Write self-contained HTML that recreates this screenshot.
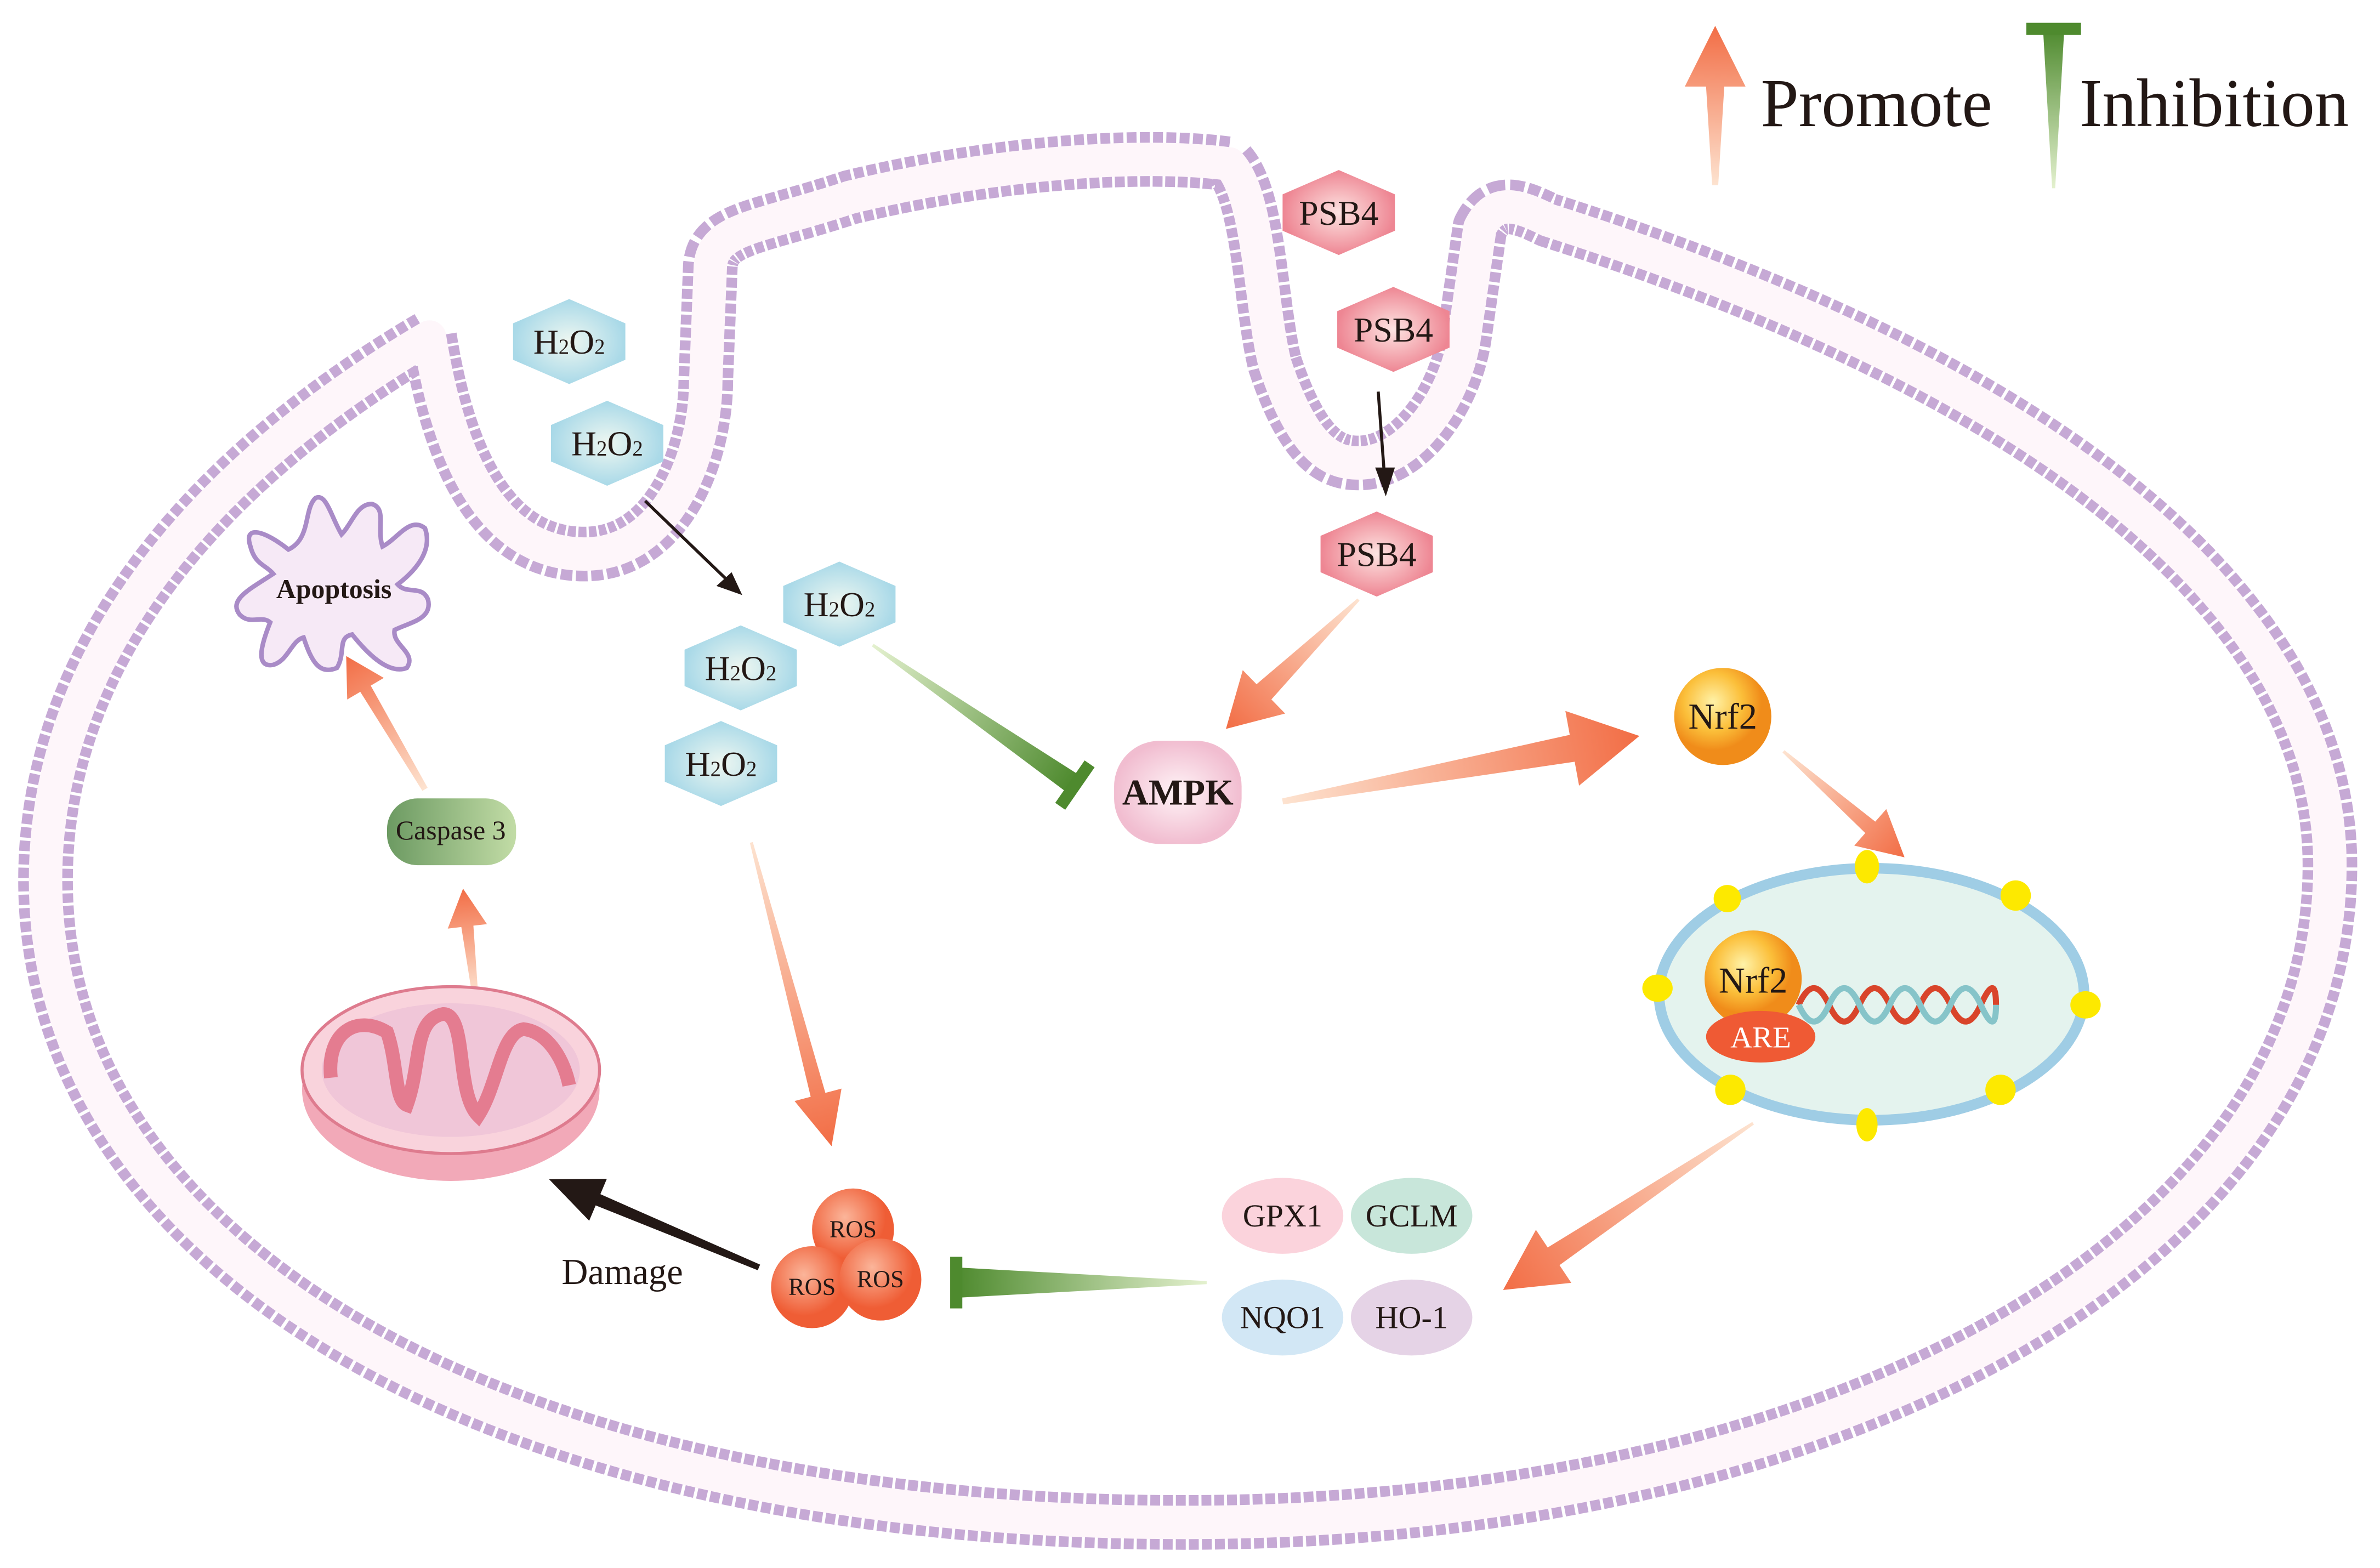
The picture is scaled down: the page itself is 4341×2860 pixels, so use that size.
<!DOCTYPE html>
<html><head><meta charset="utf-8"><style>
html,body{margin:0;padding:0;background:#fff;}
svg{display:block;}
text{font-family:"Liberation Serif",serif;fill:#231815;}
</style></head><body>
<svg width="4341" height="2860" viewBox="0 0 1568 1033" xmlns="http://www.w3.org/2000/svg">
<defs>
<linearGradient id="og" x1="0" y1="0" x2="1" y2="0"><stop offset="0" stop-color="#fde3d0"/><stop offset="1" stop-color="#f26d45"/></linearGradient>
<linearGradient id="gg" x1="0" y1="0" x2="1" y2="0"><stop offset="0" stop-color="#e4f1cf"/><stop offset="1" stop-color="#4e8a2e"/></linearGradient>
<radialGradient id="hb"><stop offset="0" stop-color="#eef7f1"/><stop offset="1" stop-color="#a9d9e8"/></radialGradient>
<radialGradient id="hp"><stop offset="0" stop-color="#fde4e2"/><stop offset="1" stop-color="#ee8693"/></radialGradient>
<radialGradient id="nrf" cx="0.4" cy="0.35"><stop offset="0" stop-color="#fff2a8"/><stop offset="0.6" stop-color="#fbbf3a"/><stop offset="1" stop-color="#f08c1a"/></radialGradient>
<radialGradient id="ros" cx="0.4" cy="0.35"><stop offset="0" stop-color="#fbb59a"/><stop offset="1" stop-color="#ef5d35"/></radialGradient>
<radialGradient id="ampk"><stop offset="0" stop-color="#fff4f7"/><stop offset="1" stop-color="#f1bdd0"/></radialGradient>
<linearGradient id="casp" x1="0" y1="0" x2="1" y2="0"><stop offset="0" stop-color="#6c9a62"/><stop offset="1" stop-color="#c2dca6"/></linearGradient>
<polygon id="hex" points="0,-28 37,-12 37,12 0,28 -37,12 -37,-12"/>
<path id="mem" d="M283,222 C300,330 340,365 385,365 C440,365 465,300 465,250 L468,175 C470,150 500,150 560,130 C650,108 750,100 810,108 C830,130 830,200 840,240 C860,300 880,305 895,305 C930,305 960,260 965,220 L975,150 C985,130 1000,135 1020,145 C1350,250 1535,400 1535,570 C1535,830 1200,1003 780,1003 C330,1003 30,830 30,580 C30,420 150,300 283,222 Z"/>
</defs>

<g fill="none" stroke-linejoin="round">
<use href="#mem" stroke="#c6a9d5" stroke-width="36" stroke-dasharray="6.5 2"/>
<use href="#mem" stroke="#fef6fa" stroke-width="22"/>
</g>

<g transform="translate(1130,122) rotate(-90)"><polygon points="0,-2 65,-6 65,-20 105,0 65,20 65,6 0,2" fill="url(#og)"/></g>
<text x="1160" y="83" font-size="45">Promote</text>
<g transform="translate(1353,124) rotate(-90)"><polygon points="0,-1 105,-7 105,7 0,1" fill="url(#gg)"/><rect x="101" y="-18" width="8" height="36" fill="#4e8a2e"/></g>
<text x="1370" y="83" font-size="45">Inhibition</text>

<g font-size="23" text-anchor="middle">
<use href="#hex" fill="url(#hp)" transform="translate(882,140)"/><text x="882" y="148">PSB4</text>
<use href="#hex" fill="url(#hp)" transform="translate(918,217)"/><text x="918" y="225">PSB4</text>
<use href="#hex" fill="url(#hp)" transform="translate(907,365)"/><text x="907" y="373">PSB4</text>
<use href="#hex" fill="url(#hb)" transform="translate(375,225)"/><text x="375" y="233">H<tspan font-size="14">2</tspan>O<tspan font-size="14">2</tspan></text>
<use href="#hex" fill="url(#hb)" transform="translate(400,292)"/><text x="400" y="300">H<tspan font-size="14">2</tspan>O<tspan font-size="14">2</tspan></text>
<use href="#hex" fill="url(#hb)" transform="translate(553,398)"/><text x="553" y="406">H<tspan font-size="14">2</tspan>O<tspan font-size="14">2</tspan></text>
<use href="#hex" fill="url(#hb)" transform="translate(488,440)"/><text x="488" y="448">H<tspan font-size="14">2</tspan>O<tspan font-size="14">2</tspan></text>
<use href="#hex" fill="url(#hb)" transform="translate(475,503)"/><text x="475" y="511">H<tspan font-size="14">2</tspan>O<tspan font-size="14">2</tspan></text>
</g>

<line x1="425" y1="330" x2="480" y2="383" stroke="#231815" stroke-width="2"/>
<polygon points="489,392 472,386 482,377" fill="#231815"/>
<line x1="908" y1="258" x2="912" y2="312" stroke="#231815" stroke-width="2"/>
<polygon points="913,327 906,308 919,308" fill="#231815"/>

<rect x="734" y="488" width="84" height="68" rx="30" fill="url(#ampk)"/>
<text x="776" y="530" font-size="24" text-anchor="middle" font-weight="bold">AMPK</text>

<g transform="translate(575,425) rotate(34.7)"><polygon points="0,-1 160,-7 160,7 0,1" fill="url(#gg)"/><rect x="158" y="-17" width="8" height="34" fill="#4e8a2e"/></g>
<g transform="translate(795,845) rotate(180)"><polygon points="0,-1 165,-10 165,10 0,1" fill="url(#gg)"/><rect x="161" y="-17" width="8" height="34" fill="#4e8a2e"/></g>

<g fill="url(#og)">
<g transform="translate(895,395) rotate(135.7)"><polygon points="0,-1 87,-7 87,-20 122,0 87,20 87,7 0,1"/></g>
<g transform="translate(845,528) rotate(-10.4)"><polygon points="0,-2 194,-9 194,-25 239,0 194,25 194,9 0,2"/></g>
<g transform="translate(1175,495) rotate(41.2)"><polygon points="0,-1 76,-5 76,-16 106,0 76,16 76,5 0,1"/></g>
<g transform="translate(1155,740) rotate(146.3)"><polygon points="0,-1 158,-7 158,-21 198,0 158,21 158,7 0,1"/></g>
<g transform="translate(495,555) rotate(75.2)"><polygon points="0,-1 172,-5 172,-16 207,0 172,16 172,5 0,1"/></g>
<g transform="translate(313,655) rotate(-96.5)"><polygon points="0,-2 45,-4 45,-13 70,0 45,13 45,4 0,2"/></g>
<g transform="translate(280,520) rotate(-120.6)"><polygon points="0,-2 77,-4 77,-14 102,0 77,14 77,4 0,2"/></g>
</g>

<circle cx="1135" cy="472" r="32" fill="url(#nrf)"/>
<text x="1135" y="480" font-size="24" text-anchor="middle">Nrf2</text>

<ellipse cx="1233" cy="655" rx="140" ry="83" fill="#e4f3ee" stroke="#9fcde5" stroke-width="7"/>
<g fill="#fde900">
<ellipse cx="1230" cy="571" rx="8" ry="11"/><ellipse cx="1328" cy="590" rx="10" ry="10"/><ellipse cx="1374" cy="662" rx="10" ry="9"/>
<ellipse cx="1318" cy="718" rx="10" ry="10"/><ellipse cx="1230" cy="741" rx="7" ry="11"/><ellipse cx="1140" cy="718" rx="10" ry="10"/>
<ellipse cx="1092" cy="651" rx="10" ry="9"/><ellipse cx="1138" cy="592" rx="9" ry="9"/>
</g>
<g fill="none" stroke-width="4">
<path d="M1185,662 q10,-22 20,0 t20,0 t20,0 t20,0 t20,0 t20,0 t10,0" stroke="#d9442a"/>
<path d="M1185,662 q10,22 20,0 t20,0 t20,0 t20,0 t20,0 t20,0 t10,0" stroke="#86c4c9"/>
</g>
<circle cx="1155" cy="645" r="32" fill="url(#nrf)"/>
<text x="1155" y="654" font-size="24" text-anchor="middle">Nrf2</text>
<ellipse cx="1160" cy="683" rx="36" ry="17" fill="#ef5a34"/>
<text x="1160" y="690" font-size="20" text-anchor="middle" style="fill:#fff">ARE</text>

<g font-size="21" text-anchor="middle">
<ellipse cx="845" cy="801" rx="40" ry="25" fill="#fbd3dc"/><text x="845" y="808">GPX1</text>
<ellipse cx="930" cy="801" rx="40" ry="25" fill="#c8e6da"/><text x="930" y="808">GCLM</text>
<ellipse cx="845" cy="868" rx="40" ry="25" fill="#d2e7f5"/><text x="845" y="875">NQO1</text>
<ellipse cx="930" cy="868" rx="40" ry="25" fill="#e5d3e6"/><text x="930" y="875">HO-1</text>
</g>

<circle cx="562" cy="810" r="27" fill="url(#ros)"/>
<circle cx="535" cy="848" r="27" fill="url(#ros)"/>
<circle cx="580" cy="843" r="27" fill="url(#ros)"/>
<g font-size="16" text-anchor="middle"><text x="562" y="815">ROS</text><text x="535" y="853">ROS</text><text x="580" y="848">ROS</text></g>

<g transform="translate(500,835) rotate(202.8)"><polygon points="0,-2 115,-4 115,-15 150,0 115,15 115,4 0,2" fill="#231815"/></g>
<text x="410" y="846" font-size="24" text-anchor="middle">Damage</text>

<ellipse cx="297" cy="718" rx="98" ry="60" fill="#f2a9b8"/>
<ellipse cx="297" cy="705" rx="98" ry="55" fill="#f9d3dc" stroke="#de7b8e" stroke-width="2"/>
<ellipse cx="297" cy="705" rx="85" ry="44" fill="#f0c6d8"/>
<path d="M218,710 C215,680 235,668 255,680 C262,700 260,725 268,728 C278,700 272,672 292,668 C308,668 300,720 315,735 C328,715 330,680 345,678 C362,680 372,700 375,715" fill="none" stroke="#e47c90" stroke-width="9"/>

<rect x="255" y="526" width="85" height="44" rx="20" fill="url(#casp)"/>
<text x="297" y="553" font-size="18" text-anchor="middle">Caspase 3</text>

<path d="M190,362 C175,350 160,345 165,360 C168,372 175,372 180,378 C165,388 150,395 158,405 C165,412 172,405 178,410 C172,425 168,440 180,438 C190,435 192,422 200,420 C205,435 210,445 222,440 C228,430 222,420 232,418 C240,428 255,445 268,440 C275,430 258,425 260,415 C270,410 285,408 282,395 C278,385 268,392 262,385 C275,375 285,362 280,348 C270,340 262,355 252,360 C248,348 255,335 245,332 C235,332 232,345 225,352 C218,340 215,325 208,328 C200,335 205,355 190,362 Z" fill="#f6e9f6" stroke="#a98bc7" stroke-width="3"/>
<text x="220" y="394" font-size="18" text-anchor="middle" font-weight="bold">Apoptosis</text>
</svg>
</body></html>
